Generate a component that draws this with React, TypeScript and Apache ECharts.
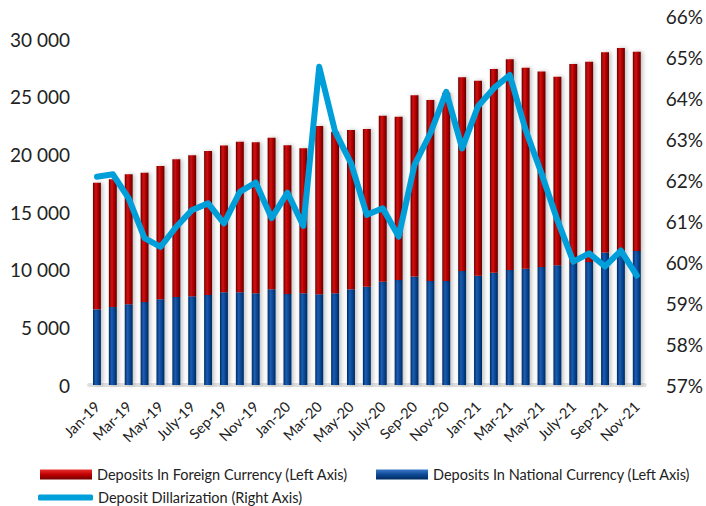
import React, { useEffect, useRef } from "react";
import * as echarts from "echarts";

const months = [
  "Jan-19","Feb-19","Mar-19","Apr-19","May-19","June-19","July-19","Aug-19","Sep-19","Oct-19","Nov-19","Dec-19",
  "Jan-20","Feb-20","Mar-20","Apr-20","May-20","June-20","July-20","Aug-20","Sep-20","Oct-20","Nov-20","Dec-20",
  "Jan-21","Feb-21","Mar-21","Apr-21","May-21","June-21","July-21","Aug-21","Sep-21","Oct-21","Nov-21",
];

const totalDeposits = [
  17540, 17840, 18270, 18410, 18990, 19570, 19920, 20290, 20760, 21100, 21050, 21450,
  20790, 20530, 22460, 21970, 22120, 22200, 23360, 23270, 25120, 24720, 25350, 26690,
  26390, 27410, 28250, 27520, 27180, 26740, 27840, 28040, 28860, 29230, 28910,
];

const nationalDeposits = [
  6560, 6760, 7000, 7200, 7430, 7630, 7690, 7800, 8040, 8040, 7950, 8300,
  7890, 7950, 7870, 7950, 8300, 8530, 8960, 9100, 9400, 9020, 9020, 9890,
  9480, 9740, 9970, 10090, 10230, 10380, 10500, 10670, 11500, 11700, 11620,
];

const foreignDeposits = totalDeposits.map((t, i) => t - nationalDeposits[i]);

const dollarization = [
  62.08, 62.14, 61.55, 60.58, 60.37, 60.86, 61.27, 61.43, 60.94, 61.71, 61.94, 61.07,
  61.69, 60.88, 64.76, 63.18, 62.41, 61.15, 61.31, 60.62, 62.37, 63.14, 64.15, 62.77,
  63.80, 64.24, 64.56, 63.22, 62.16, 61.02, 60.01, 60.21, 59.89, 60.28, 59.67,
];

const seriesNames = [
  "Deposits In Foreign Currency (Left Axis)",
  "Deposits In National Currency (Left Axis)",
  "Deposit Dillarization (Right Axis)",
];

const FONT = "Lato, 'Open Sans', sans-serif";

export default function App() {
  const ref = useRef<HTMLDivElement>(null);
  useEffect(() => {
    if (!ref.current) return;
    const chart = echarts.init(ref.current, null, { renderer: "svg" });
    const redGrad = new echarts.graphic.LinearGradient(0, 0, 1, 0, [
      { offset: 0, color: "#6e0000" },
      { offset: 0.35, color: "#d01010" },
      { offset: 0.6, color: "#b80000" },
      { offset: 1, color: "#600000" },
    ]);
    const blueGrad = new echarts.graphic.LinearGradient(0, 0, 1, 0, [
      { offset: 0, color: "#002b63" },
      { offset: 0.35, color: "#1c5eb3" },
      { offset: 0.6, color: "#0a4a99" },
      { offset: 1, color: "#002a60" },
    ]);
    const redIcon = new echarts.graphic.LinearGradient(0, 0, 0, 1, [
      { offset: 0, color: "#e83030" },
      { offset: 0.5, color: "#c00000" },
      { offset: 1, color: "#700000" },
    ]);
    const blueIcon = new echarts.graphic.LinearGradient(0, 0, 0, 1, [
      { offset: 0, color: "#3a78c8" },
      { offset: 0.5, color: "#0f4a96" },
      { offset: 1, color: "#002a60" },
    ]);
    chart.setOption({
      animation: false,
      textStyle: { fontFamily: FONT },
      grid: { left: 89, right: 56, top: 16, bottom: 121, containLabel: false },
      legend: [
        {
          left: 40,
          top: 467,
          padding: 0,
          itemWidth: 52,
          itemHeight: 10,
          itemGap: 28,
          textStyle: { fontSize: 14.5, color: "#222", fontFamily: FONT },
          data: [
            { name: seriesNames[0], icon: "rect", itemStyle: { color: redIcon } },
            { name: seriesNames[1], icon: "rect", itemStyle: { color: blueIcon } },
          ],
        },
        {
          left: 38,
          top: 490,
          padding: 0,
          itemWidth: 55,
          itemHeight: 6,
          textStyle: { fontSize: 14.5, color: "#222", fontFamily: FONT },
          data: [{ name: seriesNames[2], icon: "roundRect", itemStyle: { color: "#009fda" } }],
        },
      ],
      xAxis: {
        type: "category",
        data: months,
        axisTick: { show: false },
        axisLine: { show: true, lineStyle: { color: "#e0e0e0", width: 4 } },
        axisLabel: {
          interval: 1,
          rotate: 45,
          fontSize: 14.5,
          color: "#222",
          margin: 19,
          fontFamily: FONT,
        },
      },
      yAxis: [
        {
          type: "value",
          min: 0,
          max: 32000,
          interval: 5000,
          splitLine: { show: false },
          axisLine: { show: false },
          axisTick: { show: false },
          axisLabel: {
            showMaxLabel: false,
            fontSize: 19,
            color: "#222",
            margin: 19,
            fontFamily: FONT,
            formatter: (v: number) => (v === 32000 ? "" : String(v).replace(/\B(?=(\d{3})+(?!\d))/g, " ")),
          },
        },
        {
          type: "value",
          min: 57,
          max: 66,
          interval: 1,
          splitLine: { show: false },
          axisLine: { show: false },
          axisTick: { show: false },
          axisLabel: {
            fontSize: 19,
            color: "#222",
            margin: 21,
            fontFamily: FONT,
            formatter: "{value}%",
          },
        },
      ],
      series: [
        {
          name: seriesNames[1],
          type: "bar",
          stack: "dep",
          barWidth: "50%",
          data: nationalDeposits,
          itemStyle: {
            color: blueGrad,
            shadowColor: "rgba(0,0,0,0.25)",
            shadowBlur: 4,
            shadowOffsetX: 2,
          },
        },
        {
          name: seriesNames[0],
          type: "bar",
          stack: "dep",
          barWidth: "50%",
          data: foreignDeposits,
          itemStyle: {
            color: redGrad,
            shadowColor: "rgba(0,0,0,0.25)",
            shadowBlur: 4,
            shadowOffsetX: 2,
          },
        },
        {
          name: seriesNames[2],
          type: "line",
          yAxisIndex: 1,
          data: dollarization,
          symbol: "none",
          lineStyle: { color: "#009fda", width: 6, join: "round", cap: "round" },
          itemStyle: { color: "#009fda" },
          z: 5,
        },
      ],
    });
    return () => chart.dispose();
  }, []);
  return <div ref={ref} style={{ width: 706, height: 506, position: "absolute", left: 0, top: 0 }} />;
}
